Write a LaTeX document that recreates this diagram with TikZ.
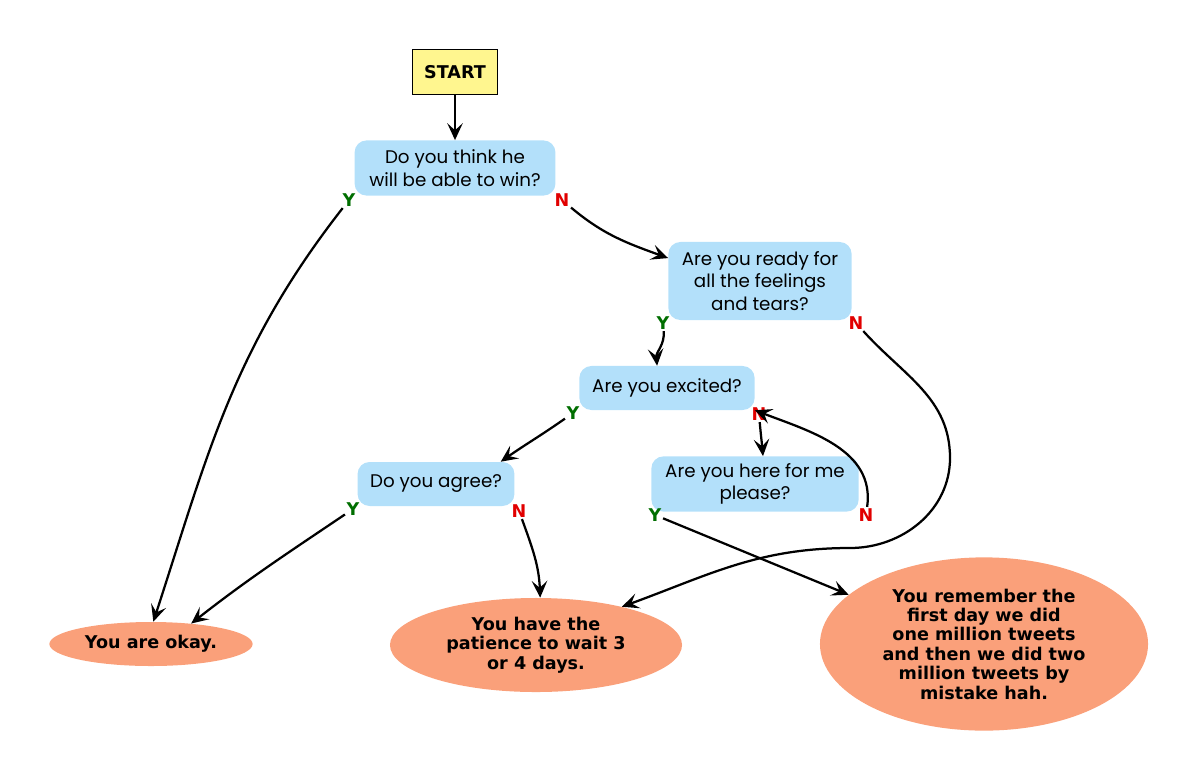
\documentclass[tikz,border=0pt]{standalone}
\usepackage{fontspec}
\usetikzlibrary{shapes.geometric, arrows.meta}
\newfontfamily\qfont{Poppins}
\newfontfamily\dvfont{DejaVu Sans}
\definecolor{qblue}{RGB}{179,224,250}
\definecolor{salmon}{RGB}{250,160,122}
\definecolor{startyellow}{RGB}{255,246,143}
\definecolor{ygreen}{RGB}{0,110,0}
\definecolor{nred}{RGB}{225,0,0}

\begin{document}
\begin{tikzpicture}[x=0.025cm,y=0.025cm]
	\tikzset{question/.style={rectangle,rounded corners=0.3cm,fill=qblue,align=center,font=\qfont\fontsize{13}{16}\selectfont,inner sep=0pt},
		answer/.style={ellipse,fill=salmon,align=center,inner sep=0pt,font=\dvfont\bfseries\fontsize{12.5}{13.8}\selectfont},
		ylab/.style={text=ygreen,font=\dvfont\bfseries\fontsize{12.5}{12.5}\selectfont,inner sep=1pt},
		nlab/.style={ylab,text=nred},
		arr/.style={-{Stealth[length=12pt,width=11pt,inset=5pt]},line width=1.6pt}}
	\useasboundingbox (0,0) rectangle (1200,-782);

	\node [draw,fill=startyellow,minimum width=2.12cm,minimum height=1.12cm,font=\dvfont\bfseries\fontsize{12.5}{12.5}\selectfont] (S) at (455,-72) {START};
	\node [question,minimum width=5.02cm,minimum height=1.38cm] (Q1) at (455,-168) {Do you think he\\will be able to win?};
	\node [question,minimum width=4.58cm,minimum height=1.95cm] (Q2) at (760,-281) {Are you ready for\\all the feelings\\and tears?};
	\node [question,minimum width=4.38cm,minimum height=1.1cm] (Q3) at (667,-388) {Are you excited?};
	\node [question,minimum width=3.92cm,minimum height=1.1cm] (Q4) at (436,-484) {Do you agree?};
	\node [question,minimum width=5.18cm,minimum height=1.38cm] (Q5) at (755,-484) {Are you here for me\\please?};

	\node [answer,minimum width=5.08cm,minimum height=1.1cm] (E1) at (151,-644) {You are okay.};
	\node [answer,minimum width=7.3cm,minimum height=2.35cm] (E2) at (536,-645) {You have the\\patience to wait 3\\or 4 days.};
	\node [answer,minimum width=8.2cm,minimum height=4.33cm] (E3) at (984,-644) {You remember the\\first day we did\\one million tweets\\and then we did two\\million tweets by\\mistake hah.};

	% Y / N labels
	\node [ylab] (y1) at (349,-200) {Y};
	\node [nlab] (n1) at (562,-200) {N};
	\node [ylab] (y2) at (663,-323) {Y};
	\node [nlab] (n2) at (856,-323) {N};
	\node [ylab] (y3) at (573,-413) {Y};
	\node [nlab] (n3) at (759,-414) {N};
	\node [ylab] (y4) at (353,-509) {Y};
	\node [nlab] (n4) at (519,-511) {N};
	\node [ylab] (y5) at (655,-515) {Y};
	\node [nlab] (n5) at (866,-515) {N};

	\draw [arr] (S) -- (Q1);
	\draw [arr] (y1) to[out=232,in=72] (E1.84);
	\draw [arr] (n1) to[out=-40,in=160] (Q2.166);
	\draw [arr] (y2) to[out=-85,in=95] (Q3.114);
	\draw [arr] (n2) to[out=-48,in=90] (950,-458) to[out=-90,in=0] (850,-548) to[out=180,in=20] (E2.24);
	\draw [arr] (y3) to[out=-145,in=35] (Q4.19);
	\draw [arr] (n3) to[out=-85,in=95] (Q5.74);
	\draw [arr] (y4) to[out=214,in=38] (E1.27);
	\draw [arr] (n4) to[out=-70,in=92] (E2.85);
	\draw [arr] (y5) -- (E3.160);
	\draw [arr] (n5) to[out=82,in=-21] (Q3.south east);
\end{tikzpicture}
\end{document}
